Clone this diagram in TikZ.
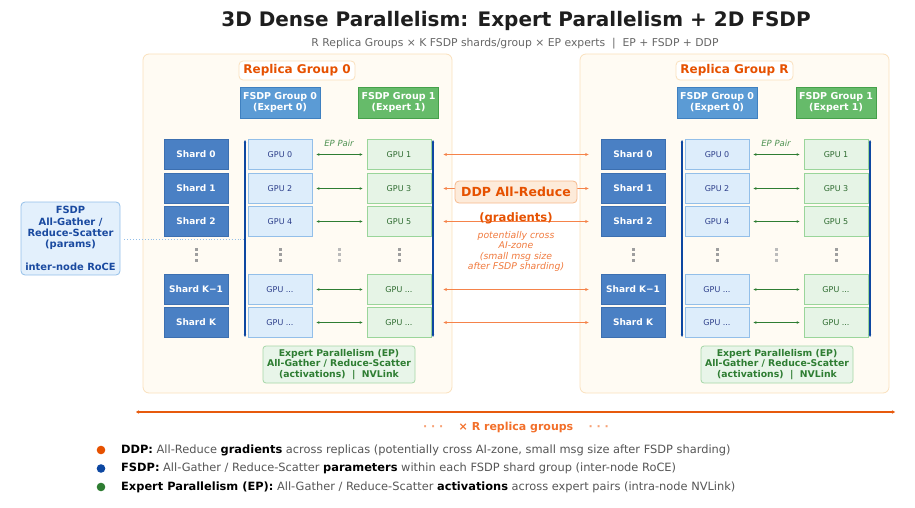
\documentclass[tikz,border=0pt]{standalone}
\usepackage{fontspec}
\setmainfont{DejaVu Sans}
\usetikzlibrary{arrows.meta}
\definecolor{orDark}{HTML}{E65100}
\definecolor{orMid}{HTML}{F26F2A}
\definecolor{orLine}{HTML}{F5834A}
\definecolor{orText}{HTML}{F07A3E}
\definecolor{repFill}{HTML}{FFFBF3}
\definecolor{repBorder}{HTML}{FAE0BC}
\definecolor{shardFill}{HTML}{4A80C4}
\definecolor{shardBorder}{HTML}{3C6FB0}
\definecolor{g0Fill}{HTML}{5B9BD5}
\definecolor{g0Border}{HTML}{3F80C0}
\definecolor{g1Fill}{HTML}{66BB6A}
\definecolor{g1Border}{HTML}{45A04A}
\definecolor{gpuBFill}{HTML}{DDEDFB}
\definecolor{gpuBBorder}{HTML}{93BFE9}
\definecolor{gpuBText}{HTML}{2C3E8A}
\definecolor{gpuGFill}{HTML}{E6F4E6}
\definecolor{gpuGBorder}{HTML}{9AD59A}
\definecolor{gpuGText}{HTML}{2E6B30}
\definecolor{epGreen}{HTML}{2E7D32}
\definecolor{fsdpBlue}{HTML}{0D47A1}
\definecolor{fsdpText}{HTML}{1A4AA0}
\definecolor{fsdpFill}{HTML}{E3F0FC}
\definecolor{epFill}{HTML}{E8F5E9}
\definecolor{epBorder}{HTML}{A5D6A7}
\definecolor{ddpFill}{HTML}{FDEBDA}
\definecolor{ddpBorder}{HTML}{F6B98C}
\definecolor{dotGray}{HTML}{9E9E9E}
\definecolor{legGray}{HTML}{555555}
\definecolor{subGray}{HTML}{666666}
\definecolor{titleDark}{HTML}{1E1E1E}
\tikzset{
  replica/.style={draw=repBorder, fill=repFill, rounded corners=6pt, line width=0.8pt, inner sep=0pt},
  rglabel/.style={draw=repBorder, fill=white, rounded corners=4pt, line width=0.8pt, text=orDark,
    font=\bfseries\fontsize{12}{14}\selectfont, minimum height=19pt, inner sep=0pt},
  grpzero/.style={draw=g0Border, fill=g0Fill, text=white, line width=0.8pt, align=center,
    font=\bfseries\fontsize{9.5}{11}\selectfont, minimum width=80pt, minimum height=31pt, inner sep=0pt},
  grpone/.style={grpzero, draw=g1Border, fill=g1Fill},
  shardbox/.style={draw=shardBorder, fill=shardFill, text=white, line width=0.8pt,
    font=\bfseries\fontsize{9}{11}\selectfont, minimum width=64pt, minimum height=30pt, inner sep=0pt},
  gpub/.style={draw=gpuBBorder, fill=gpuBFill, text=gpuBText, line width=0.9pt,
    font=\fontsize{8}{10}\selectfont, minimum width=64pt, minimum height=30pt, inner sep=0pt},
  gpug/.style={gpub, draw=gpuGBorder, fill=gpuGFill, text=gpuGText},
  eparrow/.style={draw=epGreen, line width=1.1pt, {Stealth[length=3pt,width=2.6pt]}-{Stealth[length=3pt,width=2.6pt]},
    shorten <=4pt, shorten >=4pt},
  fsdpline/.style={draw=fsdpBlue, line width=1.4pt, {Stealth[length=2.5pt,width=2.4pt]}-{Stealth[length=2.5pt,width=2.4pt]}},
  ddparrow/.style={draw=orLine, line width=1.1pt, {Stealth[length=3.5pt,width=3pt]}-{Stealth[length=3.5pt,width=3pt]},
    shorten <=12pt, shorten >=12pt},
  eplabel/.style={draw=epBorder, fill=epFill, text=epGreen, rounded corners=3pt, line width=0.8pt, align=center,
    font=\bfseries\fontsize{9.3}{10.7}\selectfont, minimum width=152pt, minimum height=37pt, inner sep=0pt},
  eppair/.style={text=epGreen!85, font=\itshape\fontsize{8.5}{9}\selectfont, inner sep=0pt},
  legtext/.style={anchor=west, text=legGray, font=\fontsize{11.4}{13}\selectfont, inner sep=0pt},
}
\newcommand{\vdotsat}[3]{% x, y, color
  \fill[#3] (#1-1.5,#2-7) rectangle (#1+1.5,#2-4);
  \fill[#3] (#1-1.5,#2-1.5) rectangle (#1+1.5,#2+1.5);
  \fill[#3] (#1+-1.5,#2+4) rectangle (#1+1.5,#2+7);}
\begin{document}
\begin{tikzpicture}[x=1pt,y=-1pt]
\useasboundingbox (0,0) rectangle (915,508);

% title
\node[text=titleDark, font=\bfseries\fontsize{20}{24}\selectfont] (title) at (516,21) {3D Dense Parallelism: Expert Parallelism + 2D FSDP};
\node[text=subGray, font=\fontsize{10.8}{12}\selectfont] (subtitle) at (515,44) {R Replica Groups × K FSDP shards/group × EP experts\ \ |\ \ EP + FSDP + DDP};

% replica boxes
\node[replica, minimum width=309pt, minimum height=339pt] (repL) at (297.5,223.5) {};
\node[replica, minimum width=309pt, minimum height=339pt] (repR) at (734.5,223.5) {};

\node[rglabel, minimum width=116pt] (rgL) at (297,70.5) {Replica Group 0};
\node[rglabel, minimum width=117pt] (rgR) at (734.5,70.5) {Replica Group R};

% group headers
\node[grpzero] (g0L) at (280,102.5) {FSDP Group 0\\(Expert 0)};
\node[grpone]  (g1L) at (398.5,102.5) {FSDP Group 1\\(Expert 1)};
\node[grpzero] (g0R) at (717,102.5) {FSDP Group 0\\(Expert 0)};
\node[grpone]  (g1R) at (836,102.5) {FSDP Group 1\\(Expert 1)};

% left replica rows
\node[shardbox] (sL0) at (196,154.5) {Shard 0};
\node[shardbox] (sL1) at (196,188.5) {Shard 1};
\node[shardbox] (sL2) at (196,221.5) {Shard 2};
\node[shardbox] (sL3) at (196,289.5) {Shard K−1};
\node[shardbox] (sL4) at (196,322.5) {Shard K};

\node[gpub] (bL0) at (280,154.5) {GPU 0};
\node[gpub] (bL1) at (280,188.5) {GPU 2};
\node[gpub] (bL2) at (280,221.5) {GPU 4};
\node[gpub] (bL3) at (280,289.5) {GPU ...};
\node[gpub] (bL4) at (280,322.5) {GPU ...};

\node[gpug] (nL0) at (399,154.5) {GPU 1};
\node[gpug] (nL1) at (399,188.5) {GPU 3};
\node[gpug] (nL2) at (399,221.5) {GPU 5};
\node[gpug] (nL3) at (399,289.5) {GPU ...};
\node[gpug] (nL4) at (399,322.5) {GPU ...};

% right replica rows
\node[shardbox] (sR0) at (633,154.5) {Shard 0};
\node[shardbox] (sR1) at (633,188.5) {Shard 1};
\node[shardbox] (sR2) at (633,221.5) {Shard 2};
\node[shardbox] (sR3) at (633,289.5) {Shard K−1};
\node[shardbox] (sR4) at (633,322.5) {Shard K};

\node[gpub] (bR0) at (717,154.5) {GPU 0};
\node[gpub] (bR1) at (717,188.5) {GPU 2};
\node[gpub] (bR2) at (717,221.5) {GPU 4};
\node[gpub] (bR3) at (717,289.5) {GPU ...};
\node[gpub] (bR4) at (717,322.5) {GPU ...};

\node[gpug] (nR0) at (836,154.5) {GPU 1};
\node[gpug] (nR1) at (836,188.5) {GPU 3};
\node[gpug] (nR2) at (836,221.5) {GPU 5};
\node[gpug] (nR3) at (836,289.5) {GPU ...};
\node[gpug] (nR4) at (836,322.5) {GPU ...};

% vertical dots
\vdotsat{196}{254.5}{dotGray}
\vdotsat{280}{254.5}{dotGray}
\vdotsat{339}{254.5}{dotGray!70}
\vdotsat{399}{254.5}{dotGray}
\vdotsat{633}{254.5}{dotGray}
\vdotsat{717}{254.5}{dotGray}
\vdotsat{776}{254.5}{dotGray!70}
\vdotsat{836}{254.5}{dotGray}

% EP pair arrows
\node[eppair] (epL) at (339,143.5) {EP Pair};
\node[eppair] (epR) at (776,143.5) {EP Pair};
\foreach \i in {0,...,4} {
  \draw[eparrow] (bL\i) -- (nL\i);
  \draw[eparrow] (bR\i) -- (nR\i);
}

% FSDP vertical lines
\coordinate (vLa1) at (245,140); \coordinate (vLa2) at (245,337);
\coordinate (vLb1) at (433,140); \coordinate (vLb2) at (433,337);
\coordinate (vRa1) at (682,140); \coordinate (vRa2) at (682,337);
\coordinate (vRb1) at (870,140); \coordinate (vRb2) at (870,337);
\draw[fsdpline] (vLa1) -- (vLa2);
\draw[fsdpline] (vLb1) -- (vLb2);
\draw[fsdpline] (vRa1) -- (vRa2);
\draw[fsdpline] (vRb1) -- (vRb2);

% EP labels
\node[eplabel] (eplL) at (339,364.5) {Expert Parallelism (EP)\\All-Gather / Reduce-Scatter\\(activations)\ \ |\ \ NVLink};
\node[eplabel] (eplR) at (777,364.5) {Expert Parallelism (EP)\\All-Gather / Reduce-Scatter\\(activations)\ \ |\ \ NVLink};

% DDP arrows
\foreach \i in {0,...,4} {
  \draw[ddparrow] (nL\i) -- (sR\i);
}
\node[draw=ddpBorder, fill=ddpFill, text=orDark, rounded corners=4pt, line width=0.8pt,
  font=\bfseries\fontsize{12.5}{14}\selectfont, minimum width=122pt, minimum height=22pt, inner sep=0pt] (ddp) at (516,192) {DDP All-Reduce};
\node[text=orDark, font=\bfseries\fontsize{11.6}{14}\selectfont, inner sep=0pt] (grad) at (516,218) {(gradients)};
\node[text=orText, align=center, font=\itshape\fontsize{9.3}{10.6}\selectfont, inner sep=0pt] (ddpnote) at (516,251.5)
  {potentially cross\\AI-zone\\(small msg size\\after FSDP sharding)};

% FSDP side label
\node[draw=gpuBBorder, fill=fsdpFill, text=fsdpText, rounded corners=4pt, line width=0.8pt, align=center,
  font=\bfseries\fontsize{9.9}{11.3}\selectfont, minimum width=99pt, minimum height=73pt, inner sep=0pt] (fsdp) at (70.5,238.5)
  {FSDP\\All-Gather /\\Reduce-Scatter\\(params)\\[11.3pt]inter-node RoCE};
\coordinate (fsdpEnd) at (244,239);
\draw[gpuBBorder, line width=0.9pt, dotted, shorten <=4pt] (fsdp.east |- fsdpEnd) -- (fsdpEnd);

% bottom replica line
\coordinate (rl1) at (136,412); \coordinate (rl2) at (895,412);
\draw[orDark!95, line width=2.6pt, {Stealth[length=3pt,width=3.5pt]}-{Stealth[length=3pt,width=3.5pt]}] (rl1) -- (rl2);
\node[text=orMid, font=\bfseries\fontsize{11}{12}\selectfont, inner sep=0pt] (reps) at (516,428)
  {{\color{orMid!65}·\ ·\ ·}\ \ \ \ × R replica groups\ \ \ \ {\color{orMid!65}·\ ·\ ·}};

% legend
\fill[orDark] (101,450) circle (4.3);
\fill[fsdpBlue] (101,468.5) circle (4.3);
\fill[epGreen] (101,487) circle (4.3);
\node[legtext] (leg1) at (121,450) {\textcolor{black}{\bfseries DDP:} All-Reduce \textcolor{black}{\bfseries gradients} across replicas (potentially cross AI-zone, small msg size after FSDP sharding)};
\node[legtext] (leg2) at (121,468.5) {\textcolor{black}{\bfseries FSDP:} All-Gather / Reduce-Scatter \textcolor{black}{\bfseries parameters} within each FSDP shard group (inter-node RoCE)};
\node[legtext] (leg3) at (121,487) {\textcolor{black}{\bfseries Expert Parallelism (EP):} All-Gather / Reduce-Scatter \textcolor{black}{\bfseries activations} across expert pairs (intra-node NVLink)};
\end{tikzpicture}
\end{document}
